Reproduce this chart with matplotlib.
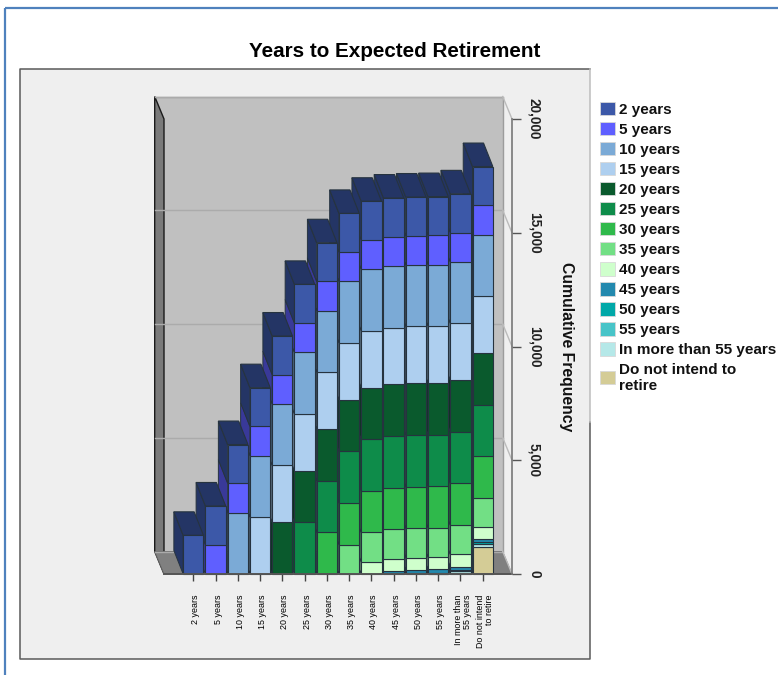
"""Years to expected retirement, 3D style cumulative stacked bars."""

import matplotlib

matplotlib.use("Agg")

import matplotlib.pyplot as plt
from matplotlib.colors import to_rgb
from matplotlib.patches import Patch, Polygon, Rectangle
from matplotlib.transforms import ScaledTranslation

W, H = 778, 675

categories = [
    "2 years", "5 years", "10 years", "15 years", "20 years", "25 years", "30 years",
    "35 years", "40 years", "45 years", "50 years", "55 years",
    "In more than\n55 years", "Do not intend\nto retire",
]
legend_labels = [
    "2 years", "5 years", "10 years", "15 years", "20 years", "25 years", "30 years",
    "35 years", "40 years", "45 years", "50 years", "55 years",
    "In more than 55 years", "Do not intend to\nretire",
]
counts = [1700, 1290, 2700, 2500, 2270, 2270, 1830, 1290, 535, 140, 45, 20, 120, 1200]
colors = [
    "#3C58A8", "#5F5FFF", "#7BAAD6", "#AECFEF", "#0A5A2D", "#0E8C4A", "#2FB94B",
    "#72DF85", "#CFFFCC", "#2389AE", "#00A8A8", "#48C4C8", "#B5E8E8", "#D4CC96",
]
y_ticks = [0, 5000, 10000, 15000, 20000]
y_tick_labels = ["0", "5,000", "10,000", "15,000", "20,000"]

EDGE = "#26333F"
TEXT_FONT = ["Liberation Sans", "DejaVu Sans"]


def darker(color, factor=0.6):
    return tuple(c * factor for c in to_rgb(color))


plt.rcParams["font.family"] = TEXT_FONT
fig = plt.figure(figsize=(W / 100, H / 100), dpi=100, facecolor="white")

# page furniture, in pixel coordinates
chrome = fig.add_axes([0, 0, 1, 1], zorder=0)
chrome.set_xlim(0, W)
chrome.set_ylim(H, 0)
chrome.axis("off")
chrome.plot([5, 5], [H, 8], color="#4F81BD", lw=1.6, solid_capstyle="butt")
chrome.plot([5, W], [8, 8], color="#4F81BD", lw=1.6, solid_capstyle="butt")
chrome.add_patch(Rectangle((20.5, 69), 569.5, 590, fc="#EFEFEF", ec="none"))
chrome.plot([590, 20.5, 20.5, 590, 590], [69, 69, 659, 659, 422], color="#5A5A5A", lw=1.1)
chrome.plot([590, 590], [422, 69], color="#BDBDBD", lw=1.1)
chrome.text(395, 51.5, "Years to Expected Retirement", fontsize=14.85, fontweight="bold",
            ha="center", va="center", color="black")
chrome.text(567, 347, "Cumulative Frequency", fontsize=11.3, fontweight="bold",
            rotation=270, ha="center", va="center", color="#111111")

# plot axes: the front plane of the 3D box
left, right, top, bottom = 164, 512, 119, 574
ax = fig.add_axes([left / W, 1 - bottom / H, (right - left) / W, (bottom - top) / H], zorder=1)
ax.patch.set_alpha(0)
pitch = 22.26
x_lo = (left - 193.3) / pitch
x_hi = (right - 193.3) / pitch
ax.set_xlim(x_lo, x_hi)
ax.set_ylim(0, 20000)
for side in ax.spines.values():
    side.set_visible(False)

depth_x = -9.3 / pitch
depth_y = 22.5 / (bottom - top) * 20000
bar_depth_y = 23.5 / (bottom - top) * 20000

# walls and floor
wall_kw = dict(clip_on=False, zorder=1)
ax.add_patch(Polygon([(x_lo + depth_x, depth_y), (x_hi + depth_x, depth_y),
                      (x_hi + depth_x, 20000 + depth_y), (x_lo + depth_x, 20000 + depth_y)],
                     fc="#C0C0C0", ec="#9C9C9C", lw=1.0, **wall_kw))
ax.add_patch(Polygon([(x_lo, 0), (x_lo + depth_x, depth_y),
                      (x_lo + depth_x, 20000 + depth_y), (x_lo, 20000)],
                     fc="#7A7A7A", ec="#1A1A1A", lw=1.0, **wall_kw))
ax.add_patch(Polygon([(x_lo, 0), (x_hi, 0), (x_hi + depth_x, depth_y), (x_lo + depth_x, depth_y)],
                     fc="#808080", ec="#6A6A6A", lw=0.6, **wall_kw))
for tick in y_ticks:
    ax.plot([x_lo + depth_x, x_hi + depth_x], [tick + depth_y] * 2, color="#ABABAB", lw=1.0,
            clip_on=False, zorder=1.5)
    ax.plot([x_hi + depth_x, x_hi], [tick + depth_y, tick], color="#BBBBBB", lw=1.0,
            clip_on=False, zorder=1.5)

# bars, right to left so that the nearer (left) column covers the next one's side
bar_w = 20.3 / pitch
n = len(categories)
for i in range(n - 1, -1, -1):
    base = 2 + (n - i) * 3
    level = 0
    x0 = i - bar_w / 2
    for j in range(i, -1, -1):
        val = counts[j]
        ax.add_patch(Polygon([(x0, level), (x0 + depth_x, level + bar_depth_y),
                              (x0 + depth_x, level + val + bar_depth_y), (x0, level + val)],
                             fc=darker(colors[j]), ec=EDGE, lw=0.7, clip_on=False, zorder=base))
        ax.bar(i, val, width=bar_w, bottom=level, color=colors[j], edgecolor=EDGE, linewidth=0.8,
               clip_on=False, zorder=base + 2)
        level += val
    ax.add_patch(Polygon([(x0, level), (x0 + bar_w, level),
                          (x0 + bar_w + depth_x, level + bar_depth_y),
                          (x0 + depth_x, level + bar_depth_y)],
                         fc=darker(colors[0]), ec=EDGE, lw=0.8, clip_on=False, zorder=base + 1))

# axes lines and ticks
ax.plot([x_lo, x_hi], [0, 0], color="#555555", lw=1.4, clip_on=False, zorder=60)
ax.plot([x_hi, x_hi], [0, 20000], color="#777777", lw=1.2, clip_on=False, zorder=60)
ax.set_xticks(range(n))
ax.set_xticklabels(categories, rotation=90, fontsize=6.4, ma="right", va="top", ha="center",
                   linespacing=1.05)
ax.tick_params(axis="x", length=5, width=1.0, color="#444444", pad=9.5)
nudge = ScaledTranslation(2.5 / 100, 0, fig.dpi_scale_trans)
for lab in ax.get_xticklabels():
    lab.set_transform(lab.get_transform() + nudge)
ax.yaxis.tick_right()
ax.set_yticks(y_ticks)
ax.set_yticklabels(y_tick_labels, rotation=270, fontsize=9.8, fontweight="bold",
                   va="center", ha="center", color="#222222")
ax.tick_params(axis="y", length=6.5, width=1.0, color="#555555", pad=9.5)

handles = [Patch(fc=c, ec="#D8D8D8", lw=0.6) for c in colors]
fig.legend(handles, legend_labels, loc="upper left", bbox_to_anchor=(597 / W, 1 - 99 / H),
           frameon=False, prop={"family": TEXT_FONT, "weight": "bold", "size": 11},
           handlelength=0.95, handleheight=0.95, handletextpad=0.3, labelspacing=0.34,
           borderpad=0.2, borderaxespad=0, labelcolor="#111111")

fig.savefig("out.png", dpi=100)
